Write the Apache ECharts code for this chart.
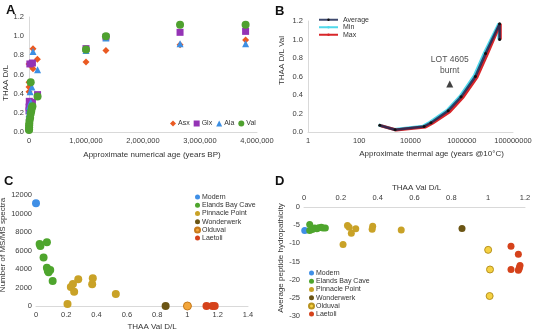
<!DOCTYPE html>
<html>
<head>
<meta charset="utf-8">
<script src="https://cdn.jsdelivr.net/npm/echarts@6/dist/echarts.min.js"></script>
<style>
  html, body { margin: 0; padding: 0; background: #fff; }
  #chart { width: 538px; height: 330px; }
</style>
</head>
<body>
<div id="chart"></div>
<script>
// panel A: age (years BP) vs THAA D/L
const asxPts = [[70000,0.87],[147000,0.76],[0,0.71],[40000,0.69],[70000,0.66],[0,0.52],[0,0.47],[0,0.42],[-5000,0.28],[1000000,0.73],[1350000,0.85],[2650000,0.91],[3800000,0.96]]
const glxPts = [[15000,0.71],[60000,0.72],[150000,0.39],[60000,0.31],[5000,0.32],[0,0.26],[0,0.22],[1000000,0.87],[1350000,0.99],[2650000,1.04],[3800000,1.05]]
const alaPts = [[70000,0.84],[150000,0.65],[50000,0.47],[20000,0.42],[30000,0.31],[5000,0.27],[0,0.23],[0,0.19],[0,0.16],[1000000,0.85],[1350000,0.98],[2650000,0.92],[3800000,0.92]]
const valPts = [[30000,0.52],[150000,0.37],[60000,0.27],[50000,0.25],[40000,0.22],[30000,0.19],[20000,0.15],[10000,0.12],[5000,0.09],[3000,0.07],[2000,0.05],[1000,0.03],[500,0.02],[1000000,0.86],[1350000,1.0],[2650000,1.12],[3800000,1.12]]

// panel B: thermal age vs Val D/L
const avgLine = [[630,0.072],[2500,0.025],[34000,0.06],[63000,0.1],[295000,0.23],[940000,0.38],[3400000,0.6],[8500000,0.85],[30000000,1.17],[30000000,1.0]]
const minLine = [[570,0.075],[2300,0.028],[31000,0.063],[57000,0.105],[270000,0.235],[860000,0.385],[3100000,0.61],[7800000,0.86],[28000000,1.17],[28000000,1.0]]
const maxLine = [[700,0.068],[2800,0.022],[39000,0.055],[72000,0.095],[340000,0.22],[1080000,0.37],[3900000,0.59],[9800000,0.84],[32000000,1.17],[32000000,1.0]]
const burntPt = [[340000,0.52]]
const logTicks = ['1','100','10000','1000000','100000000']

// panel C: Val D/L vs number of spectra
const cModern = [[0,11100]]
const cElands = [[0.024,6700],[0.029,6490],[0.072,6880],[0.05,5230],[0.072,4140],[0.094,3890],[0.083,3640],[0.078,3800],[0.11,2700]]
const cPinnacle = [[0.208,220],[0.23,2050],[0.244,2380],[0.252,1550],[0.279,2880],[0.371,2340],[0.375,2990],[0.527,1300]]
const cWonder = [[0.856,0]]
const cOlduvai = [[1.0,0]]
const cLaetoli = [[1.126,0],[1.165,0],[1.18,0]]

// panel D: Val D/L vs hydropathicity
const dModern = [[0.004,-6.5]]
const dElands = [[0.031,-4.8],[0.031,-6.5],[0.058,-5.8],[0.08,-5.7],[0.094,-5.6],[0.103,-5.8],[0.116,-5.8],[0.07,-6.0],[0.045,-6.2]]
const dPinnacle = [[0.236,-5.1],[0.245,-5.6],[0.257,-7.2],[0.281,-6.0],[0.212,-10.3],[0.373,-5.3],[0.37,-6.1],[0.528,-6.3]]
const dWonder = [[0.858,-5.9]]
const dOlduvai = [[1.0,-11.8],[1.01,-17.2],[1.008,-24.5]]
const dLaetoli = [[1.124,-10.8],[1.164,-13.0],[1.124,-17.2],[1.168,-17.0],[1.173,-16.1],[1.17,-16.6],[1.164,-17.4]]

const groups = ['Modern','Elands Bay Cave','Pinnacle Point','Wonderwerk','Olduvai','Laetoli']
const FONT = 'Liberation Sans, Arial, sans-serif'

let chart = echarts.init(document.getElementById('chart'))

const tick = { fontSize: 7.5, color: '#3a3a3a', fontFamily: FONT }
const nameStyle = (pad) => ({ fontSize: 8, color: '#333', fontFamily: FONT, padding: pad })
const lineAx = { show: true, lineStyle: { color: '#d9d9d9', width: 1 } }
const legText = { fontSize: 7, color: '#333', fontFamily: FONT }

function dot(name, data, color, size, idx, border) {
    return {
        name: name, type: 'scatter', xAxisIndex: idx, yAxisIndex: idx,
        data: data, symbolSize: size,
        itemStyle: { color: color, borderColor: border || color, borderWidth: border ? 1 : 0, opacity: 1 }
    }
}

let option = {
    animation: false,
    backgroundColor: '#fff',
    textStyle: { fontFamily: FONT },
    grid: [
        { left: 29, top: 17, width: 228, height: 115, outerBoundsMode: 'none', containLabel: false },
        { left: 308, top: 21, width: 205, height: 111, outerBoundsMode: 'none', containLabel: false },
        { left: 36, top: 195, width: 212, height: 111, outerBoundsMode: 'none', containLabel: false },
        { left: 304, top: 207, width: 221, height: 109, outerBoundsMode: 'none', containLabel: false }
    ],
    xAxis: [
        {
            gridIndex: 0, type: 'value', min: 0, max: 4000000, interval: 1000000,
            name: 'Approximate numerical age (years BP)', nameLocation: 'middle', nameGap: 19,
            nameTextStyle: nameStyle([0, 0, 0, 18]),
            axisLine: lineAx, axisTick: { show: false }, splitLine: { show: false },
            axisLabel: Object.assign({ margin: 5, formatter: v => v.toLocaleString('en-US') }, tick)
        },
        {
            gridIndex: 1, type: 'log', logBase: 100, min: 1, max: 100000000,
            name: 'Approximate thermal age (years @10°C)', nameLocation: 'middle', nameGap: 18,
            nameTextStyle: nameStyle([0, 0, 0, 42]),
            axisLine: lineAx, axisTick: { show: false }, splitLine: { show: false },
            axisLabel: Object.assign({ margin: 5, formatter: (v, i) => logTicks[i] }, tick)
        },
        {
            gridIndex: 2, type: 'value', min: 0, max: 1.4, interval: 0.2,
            name: 'THAA Val D/L', nameLocation: 'middle', nameGap: 17,
            nameTextStyle: nameStyle([0, 0, 0, 20]),
            axisLine: lineAx, axisTick: { show: false }, splitLine: { show: false },
            axisLabel: Object.assign({ margin: 5, formatter: v => String(Math.round(v * 10) / 10) }, tick)
        },
        {
            gridIndex: 3, type: 'value', min: 0, max: 1.2, interval: 0.2, position: 'top',
            name: 'THAA Val D/L', nameLocation: 'middle', nameGap: 15,
            nameTextStyle: nameStyle([0, 0, 0, 4]),
            axisLine: lineAx, axisTick: { show: false }, splitLine: { show: false },
            axisLabel: Object.assign({ margin: 5, formatter: v => String(Math.round(v * 10) / 10) }, tick)
        }
    ],
    yAxis: [
        {
            gridIndex: 0, type: 'value', min: 0, max: 1.2, interval: 0.2,
            name: 'THAA D/L', nameLocation: 'middle', nameGap: 15,
            nameTextStyle: nameStyle([0, 17, 0, 0]),
            axisLine: lineAx, axisTick: { show: false }, splitLine: { show: false },
            axisLabel: Object.assign({ margin: 5, formatter: v => v.toFixed(1) }, tick)
        },
        {
            gridIndex: 1, type: 'value', min: 0, max: 1.2, interval: 0.2,
            name: 'THAA D/L Val', nameLocation: 'middle', nameGap: 22,
            nameTextStyle: nameStyle([0, 0, 0, 32]),
            axisLine: lineAx, axisTick: { show: false }, splitLine: { show: false },
            axisLabel: Object.assign({ margin: 5, formatter: v => v.toFixed(1) }, tick)
        },
        {
            gridIndex: 2, type: 'value', min: 0, max: 12000, interval: 2000,
            name: 'Number of MS/MS spectra', nameLocation: 'middle', nameGap: 24,
            nameTextStyle: nameStyle([0, 0, 0, 11]),
            axisLine: { show: false }, axisTick: { show: false }, splitLine: { show: false },
            axisLabel: Object.assign({ margin: 4, formatter: v => String(v) }, tick)
        },
        {
            gridIndex: 3, type: 'value', min: -30, max: 0, interval: 5,
            name: 'Average peptide hydropathicity', nameLocation: 'middle', nameGap: 15,
            nameTextStyle: nameStyle([0, 0, 0, 7]),
            axisLine: { show: false }, axisTick: { show: false }, splitLine: { show: false },
            axisLabel: Object.assign({ margin: 4, formatter: v => String(v) }, tick)
        }
    ],
    legend: [
        {
            data: [
                { name: 'Asx', icon: 'diamond' }, { name: 'Glx', icon: 'rect' },
                { name: 'Ala', icon: 'triangle' }, { name: 'Val', icon: 'circle' }
            ],
            left: 170, top: 120, padding: 0, itemWidth: 6, itemHeight: 6, itemGap: 4,
            textStyle: Object.assign({ padding: [0, 0, 0, -3] }, legText)
        },
        {
            data: ['Average', 'Min', 'Max'], orient: 'vertical',
            left: 318, top: 16, padding: 0, itemWidth: 19, itemHeight: 3, itemGap: 0,
            textStyle: Object.assign({ lineHeight: 7.5 }, legText)
        },
        {
            data: groups.map(g => 'C:' + g), formatter: n => n.slice(2), orient: 'vertical',
            left: 194, top: 193, padding: 0, icon: 'circle', itemWidth: 5, itemHeight: 5, itemGap: 0,
            textStyle: Object.assign({ lineHeight: 8.2, padding: [0, 0, 0, -3] }, legText)
        },
        {
            data: groups.map(g => 'D:' + g), formatter: n => n.slice(2), orient: 'vertical',
            left: 308, top: 269, padding: 0, icon: 'circle', itemWidth: 5, itemHeight: 5, itemGap: 0,
            textStyle: Object.assign({ lineHeight: 8.2, padding: [0, 0, 0, -3] }, legText)
        }
    ],
    graphic: [
        { type: 'text', left: 6, top: 4, style: { text: 'A', fontSize: 13, fontWeight: 'bold', fill: '#111', fontFamily: FONT } },
        { type: 'text', left: 275, top: 5, style: { text: 'B', fontSize: 13, fontWeight: 'bold', fill: '#111', fontFamily: FONT } },
        { type: 'text', left: 4, top: 175, style: { text: 'C', fontSize: 13, fontWeight: 'bold', fill: '#111', fontFamily: FONT } },
        { type: 'text', left: 275, top: 175, style: { text: 'D', fontSize: 13, fontWeight: 'bold', fill: '#111', fontFamily: FONT } }
    ],
    series: [
        Object.assign(dot('Asx', asxPts, '#ea5a22', 7, 0), { symbol: 'diamond' }),
        Object.assign(dot('Glx', glxPts, '#9433b5', 7, 0), { symbol: 'rect' }),
        Object.assign(dot('Ala', alaPts, '#3d8fe3', 7, 0), { symbol: 'triangle' }),
        Object.assign(dot('Val', valPts, '#4fa12f', 8, 0), { symbol: 'circle' }),

        {
            name: 'Min', type: 'line', xAxisIndex: 1, yAxisIndex: 1, data: minLine,
            symbol: 'none', lineStyle: { color: '#4fd8ea', width: 3 }, itemStyle: { color: '#4fd8ea' }
        },
        {
            name: 'Max', type: 'line', xAxisIndex: 1, yAxisIndex: 1, data: maxLine,
            symbol: 'none', lineStyle: { color: '#d8262a', width: 3 }, itemStyle: { color: '#d8262a' }
        },
        {
            name: 'Average', type: 'line', xAxisIndex: 1, yAxisIndex: 1, data: avgLine,
            symbol: 'circle', symbolSize: 3, lineStyle: { color: '#1d2a55', width: 2.5, opacity: 0.85 },
            itemStyle: { color: '#111' }
        },
        {
            name: 'LOT 4605 burnt', type: 'scatter', xAxisIndex: 1, yAxisIndex: 1, data: burntPt,
            symbol: 'triangle', symbolSize: 7, itemStyle: { color: '#111' },
            label: {
                show: true, position: 'top', distance: 4, formatter: 'LOT 4605\nburnt',
                fontSize: 8.5, lineHeight: 11, color: '#222', fontFamily: FONT
            }
        },

        dot('C:Modern', cModern, '#3f8fe6', 8, 2),
        dot('C:Elands Bay Cave', cElands, '#4ea52d', 8, 2),
        dot('C:Pinnacle Point', cPinnacle, '#c9a227', 8, 2),
        dot('C:Wonderwerk', cWonder, '#6b5514', 8, 2),
        dot('C:Olduvai', cOlduvai, '#f3a63b', 8, 2, '#c67a1c'),
        dot('C:Laetoli', cLaetoli, '#d5421b', 8, 2),

        dot('D:Modern', dModern, '#3f8fe6', 7, 3),
        dot('D:Elands Bay Cave', dElands, '#4ea52d', 7, 3),
        dot('D:Pinnacle Point', dPinnacle, '#c9a227', 7, 3),
        dot('D:Wonderwerk', dWonder, '#6b5514', 7, 3),
        dot('D:Olduvai', dOlduvai, '#f5d142', 7, 3, '#b8931f'),
        dot('D:Laetoli', dLaetoli, '#d5421b', 7, 3)
    ]
}
chart.setOption(option)
</script>
</body>
</html>
